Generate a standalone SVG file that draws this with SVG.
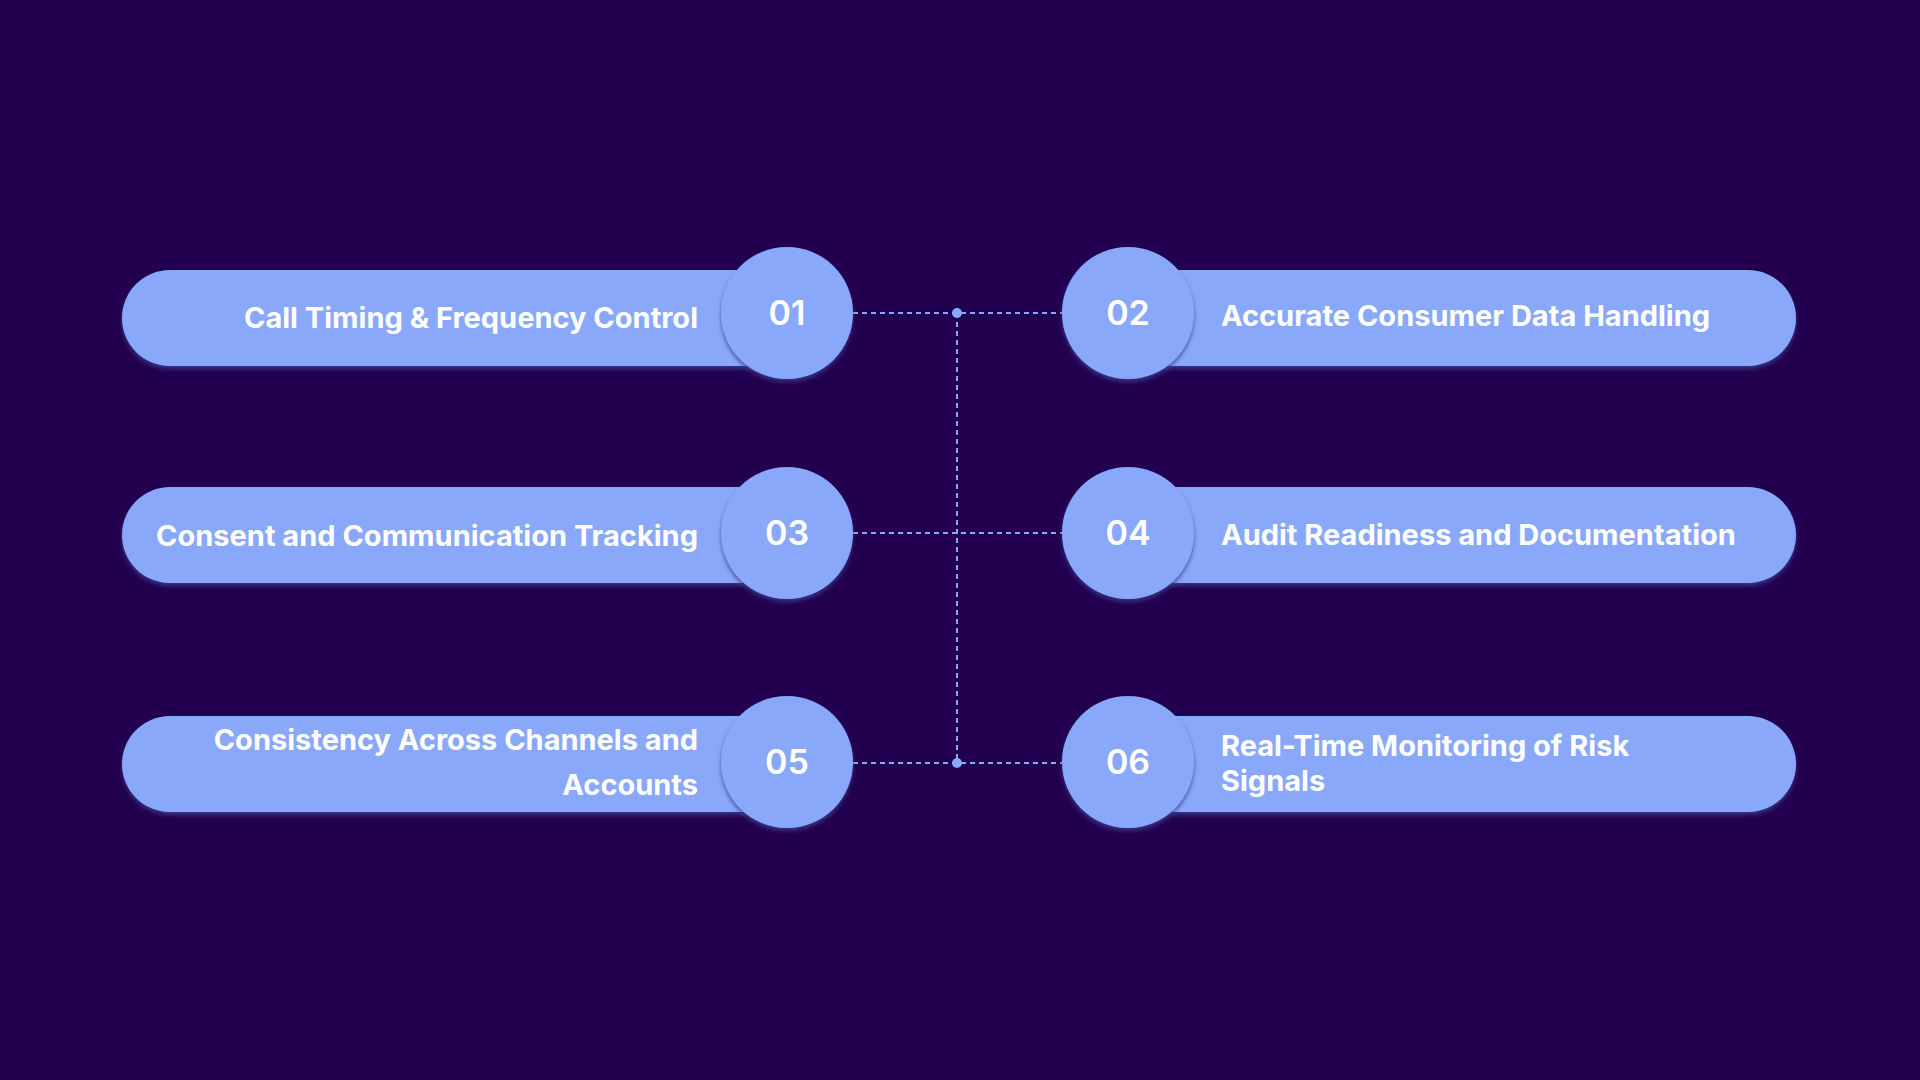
<svg xmlns="http://www.w3.org/2000/svg" width="1920" height="1080" viewBox="0 0 1920 1080">
<defs>
<filter id="sh" x="-20%" y="-20%" width="140%" height="150%"><feDropShadow dx="0" dy="3" stdDeviation="2" flood-color="#3a3f8f" flood-opacity="0.8"/></filter>
</defs>
<style>
.pill{fill:#8aa8fa;filter:url(#sh)}
.circ{fill:#8aa8fa;filter:url(#sh)}
.t{font-family:Inter,"Liberation Sans",sans-serif;font-weight:700;font-size:29px;fill:#fff}
.n{font-family:Inter,"Liberation Sans",sans-serif;font-weight:600;font-size:34px;fill:#fff;text-anchor:middle}
.c{stroke:#8aa8fa;stroke-width:2;stroke-dasharray:5 4;fill:none}
</style>
<rect width="1920" height="1080" fill="#22004f"/>
<g id="connectors">
<path class="c" d="M853 313H1062M957 313V763M853 533H1062M853 763H1062"/>
<circle cx="957" cy="313" r="5" fill="#8aa8fa"/>
<circle cx="957" cy="763" r="5" fill="#8aa8fa"/>
</g>
<g id="n01"><rect class="pill" x="122" y="270" width="680" height="96" rx="48"/><circle class="circ" cx="787" cy="313" r="66"/><text class="t" x="698" y="328" text-anchor="end">Call Timing &amp; Frequency Control</text><text class="n" x="787" y="325">01</text></g>
<g id="n02"><rect class="pill" x="1110" y="270" width="686" height="96" rx="48"/><circle class="circ" cx="1128" cy="313" r="66"/><text class="t" x="1221" y="326">Accurate Consumer Data Handling</text><text class="n" x="1128" y="325">02</text></g>
<g id="n03"><rect class="pill" x="122" y="487" width="680" height="96" rx="48"/><circle class="circ" cx="787" cy="533" r="66"/><text class="t" x="698" y="546" text-anchor="end">Consent and Communication Tracking</text><text class="n" x="787" y="545">03</text></g>
<g id="n04"><rect class="pill" x="1110" y="487" width="686" height="96" rx="48"/><circle class="circ" cx="1128" cy="533" r="66"/><text class="t" x="1221" y="545">Audit Readiness and Documentation</text><text class="n" x="1128" y="545">04</text></g>
<g id="n05"><rect class="pill" x="122" y="716" width="680" height="96" rx="48"/><circle class="circ" cx="787" cy="762" r="66"/><text class="t" x="698" y="750" text-anchor="end">Consistency Across Channels and</text><text class="t" x="698" y="795" text-anchor="end">Accounts</text><text class="n" x="787" y="774">05</text></g>
<g id="n06"><rect class="pill" x="1110" y="716" width="686" height="96" rx="48"/><circle class="circ" cx="1128" cy="762" r="66"/><text class="t" x="1221" y="756">Real-Time Monitoring of Risk</text><text class="t" x="1221" y="791">Signals</text><text class="n" x="1128" y="774">06</text></g>
</svg>
